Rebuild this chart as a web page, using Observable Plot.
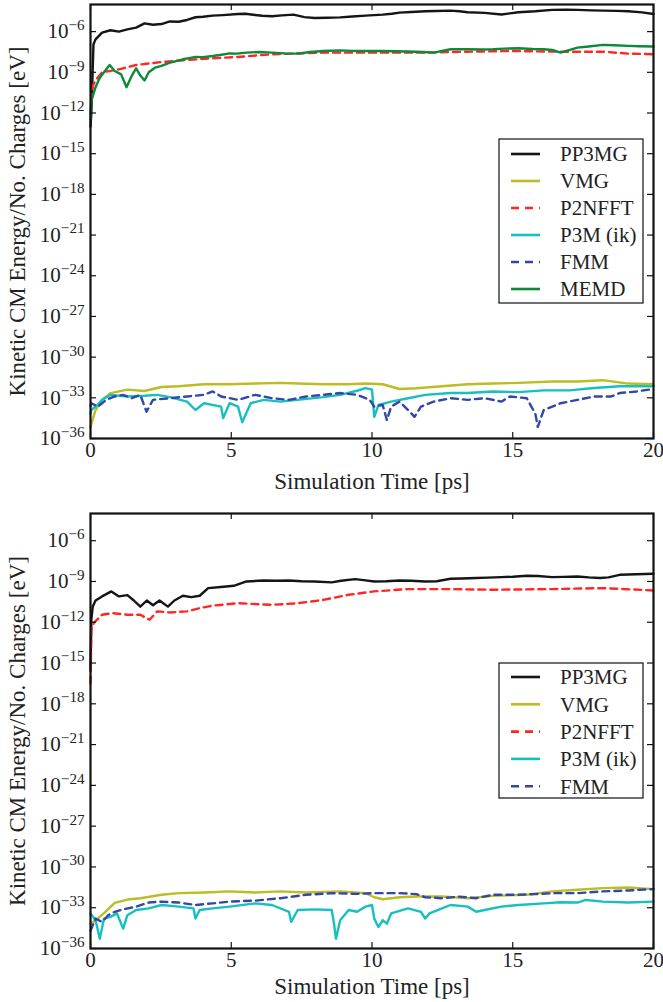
<!DOCTYPE html>
<html><head><meta charset="utf-8">
<script src="https://cdn.jsdelivr.net/npm/d3@7"></script>
<script src="https://cdn.jsdelivr.net/npm/@observablehq/plot@0.6"></script>
<style>
body{margin:0;background:#fff;}
#chart{width:663px;}
svg{display:block;}
</style></head><body><div id="chart"></div>
<script>
// ---- shared axis values ----
const xTicks = [0, 5, 10, 15, 20];
const yTickExps = [-36, -33, -30, -27, -24, -21, -18, -15, -12, -9, -6];
const xLabel = "Simulation Time [ps]";
const yLabel = "Kinetic CM Energy/No. Charges [eV]";

// ---- series ----
const seriesNames  = ["PP3MG", "VMG", "P2NFFT", "P3M (ik)", "FMM", "MEMD"];
const seriesColors = ["#151515", "#bcbd22", "#ff2626", "#17bfbf", "#3348a6", "#0b8a3a"];
const seriesDash   = [null, null, "7,5", null, "7,5", null];

// values are [time (ps), log10(energy in eV)]
// ---- top panel ----
const topPP3MG = [[0,-13],[0.03,-12],[0.106,-6.93],[0.18,-6.57],[0.41,-6.07],[0.71,-5.9],[1.01,-6.0],[1.31,-5.83],[1.62,-5.71],[1.92,-5.39],[2.22,-5.49],[2.52,-5.44],[2.82,-5.25],[3.13,-5.27],[3.43,-5.14],[3.73,-4.94],[4.0,-4.9],[4.34,-4.82],[4.7,-4.78],[5.24,-4.70],[5.5,-4.68],[5.85,-4.77],[6.1,-4.83],[6.45,-4.87],[6.8,-4.80],[7.21,-4.75],[7.6,-4.93],[7.96,-5.0],[8.4,-4.98],[8.87,-4.95],[9.3,-4.88],[9.77,-4.82],[10.38,-4.75],[10.7,-4.68],[10.98,-4.60],[11.4,-4.55],[11.89,-4.50],[12.3,-4.48],[12.79,-4.45],[13.1,-4.50],[13.4,-4.57],[14.0,-4.62],[14.6,-4.74],[15.2,-4.57],[15.8,-4.50],[16.4,-4.40],[16.9,-4.38],[17.3,-4.40],[17.8,-4.43],[18.2,-4.45],[18.7,-4.47],[19.1,-4.50],[19.6,-4.58],[20,-4.70]];
const topVMG = [[0,-35.2],[0.03,-34.9],[0.18,-33.9],[0.41,-33.15],[0.71,-32.65],[1.31,-32.4],[1.92,-32.5],[2.52,-32.2],[3.13,-32.15],[4.03,-32.0],[4.94,-32.0],[5.85,-31.95],[6.75,-31.9],[7.36,-31.95],[8.26,-32.0],[9.17,-32.0],[9.77,-31.95],[10.38,-32.0],[10.98,-32.35],[11.58,-32.3],[12.49,-32.15],[13.4,-32.0],[14.3,-31.95],[15.2,-31.9],[16.4,-31.8],[17.3,-31.8],[18.2,-31.7],[19.1,-31.95],[20,-32.0]];
const topP2NFFT = [[0,-12],[0.08,-10.0],[0.18,-9.6],[0.41,-9.0],[1.01,-8.78],[1.62,-8.46],[2.52,-8.24],[3.28,-8.11],[4.34,-7.96],[5.24,-7.87],[6.45,-7.67],[8.26,-7.55],[9.77,-7.55],[11.89,-7.55],[13.4,-7.48],[14.9,-7.43],[16.7,-7.48],[18.2,-7.48],[19.1,-7.62],[20,-7.67]];
const topP3M = [[0,-34.2],[0.03,-33.9],[0.26,-33.5],[0.41,-33.15],[0.71,-32.78],[1.31,-32.9],[1.92,-32.85],[2.37,-32.78],[2.82,-32.95],[3.43,-33.28],[3.73,-33.9],[4.03,-33.4],[4.64,-33.65],[4.71,-34.5],[4.94,-33.4],[5.24,-33.65],[5.39,-34.8],[5.69,-33.4],[6.15,-33.15],[6.75,-33.28],[7.36,-33.15],[8.26,-32.95],[8.87,-32.78],[9.47,-32.48],[9.77,-32.28],[10.0,-32.4],[10.08,-34.4],[10.23,-33.53],[10.68,-33.28],[11.28,-33.03],[11.89,-32.78],[12.79,-32.65],[13.4,-32.65],[14.3,-32.53],[15.2,-32.58],[16.1,-32.45],[17.0,-32.45],[17.9,-32.28],[18.8,-32.15],[20,-32.15]];
const topFMM = [[0,-33.6],[0.03,-33.4],[0.26,-33.65],[0.56,-33.15],[0.86,-32.9],[1.16,-32.78],[1.47,-33.03],[1.77,-32.78],[1.99,-34.03],[2.22,-33.15],[2.82,-33.03],[3.43,-32.9],[4.03,-32.78],[4.34,-32.53],[4.64,-32.9],[5.24,-33.15],[5.85,-32.78],[6.45,-33.03],[7.05,-33.15],[7.66,-32.9],[8.26,-32.78],[8.87,-32.65],[9.47,-32.78],[9.92,-33.15],[10.08,-33.65],[10.38,-33.53],[10.53,-34.65],[10.68,-33.65],[10.98,-33.28],[11.28,-33.9],[11.51,-34.4],[11.74,-33.65],[12.19,-33.28],[12.79,-33.03],[13.4,-33.15],[14.0,-33.03],[14.6,-33.28],[14.9,-32.9],[15.5,-33.03],[15.66,-33.65],[15.8,-34.15],[15.89,-35.15],[16.1,-33.9],[16.7,-33.4],[17.3,-33.15],[17.9,-32.9],[18.5,-32.9],[18.8,-32.65],[19.4,-32.53],[20,-32.35]];
const topMEMD = [[0,-12.5],[0.03,-11.1],[0.18,-10.1],[0.33,-9.4],[0.48,-9.0],[0.68,-8.46],[0.86,-8.9],[1.09,-9.15],[1.28,-10.1],[1.47,-9.24],[1.62,-8.70],[1.77,-9.24],[1.92,-9.6],[2.07,-9.0],[2.30,-8.65],[2.52,-8.53],[2.82,-8.29],[3.0,-8.2],[3.28,-8.04],[3.5,-7.95],[3.73,-7.87],[4.0,-7.88],[4.34,-7.80],[4.6,-7.72],[4.94,-7.60],[5.2,-7.62],[5.54,-7.55],[6.0,-7.5],[6.45,-7.55],[6.9,-7.6],[7.36,-7.62],[7.8,-7.5],[8.26,-7.43],[8.87,-7.38],[9.3,-7.42],[9.77,-7.43],[10.38,-7.43],[10.8,-7.45],[11.28,-7.47],[11.8,-7.5],[12.19,-7.55],[12.79,-7.30],[13.4,-7.30],[13.9,-7.32],[14.3,-7.30],[14.7,-7.25],[15.2,-7.23],[15.7,-7.28],[16.1,-7.30],[16.4,-7.35],[16.7,-7.55],[17.3,-7.18],[17.7,-7.1],[18.2,-6.98],[18.6,-7.0],[19.1,-7.05],[19.5,-7.08],[20,-7.10]];

// ---- bottom panel ----
const botPP3MG = [[0,-15.5],[0.03,-11.8],[0.08,-10.85],[0.18,-10.4],[0.41,-10.1],[0.74,-9.73],[1.01,-10.1],[1.31,-10.0],[1.54,-10.4],[1.77,-10.85],[2.0,-10.4],[2.22,-10.75],[2.45,-10.4],[2.75,-10.85],[2.98,-10.4],[3.28,-10.05],[3.58,-10.15],[3.88,-10.05],[4.18,-9.49],[4.63,-9.41],[5.09,-9.32],[5.54,-9.0],[6.15,-8.93],[6.6,-8.95],[7.05,-8.93],[7.5,-8.98],[7.96,-9.0],[8.57,-9.07],[8.9,-8.95],[9.4,-8.83],[9.7,-8.9],[10.08,-9.0],[10.5,-8.98],[10.98,-8.93],[11.4,-8.95],[11.89,-9.0],[12.3,-8.98],[12.79,-8.80],[13.2,-8.78],[13.7,-8.75],[14.1,-8.72],[14.6,-8.68],[15.0,-8.65],[15.5,-8.58],[15.9,-8.6],[16.4,-8.68],[16.8,-8.66],[17.3,-8.63],[17.7,-8.70],[18.1,-8.75],[18.4,-8.70],[18.8,-8.51],[19.4,-8.47],[20,-8.43]];
const botVMG = [[0,-34.2],[0.26,-33.8],[0.48,-33.4],[0.86,-32.65],[1.31,-32.4],[1.77,-32.3],[2.52,-32.05],[3.13,-31.93],[4.03,-31.88],[4.94,-31.8],[5.85,-31.88],[6.75,-31.8],[7.66,-31.88],[8.87,-31.8],[9.77,-31.93],[10.08,-32.23],[10.38,-32.38],[10.98,-32.23],[11.58,-32.18],[12.49,-32.18],[13.4,-32.3],[14.3,-32.13],[15.5,-32.05],[16.4,-31.8],[17.3,-31.68],[18.2,-31.56],[19.1,-31.51],[20,-31.63]];
const botP2NFFT = [[0,-16.5],[0.03,-12.56],[0.11,-12.07],[0.41,-11.45],[0.79,-11.33],[1.31,-11.45],[1.77,-11.45],[2.1,-11.82],[2.37,-11.2],[2.82,-11.28],[3.43,-11.2],[3.88,-10.96],[4.34,-10.78],[5.24,-10.6],[6.45,-10.72],[7.36,-10.6],[8.26,-10.36],[9.17,-9.98],[10.08,-9.73],[11.28,-9.56],[12.79,-9.56],[14.3,-9.61],[16.4,-9.56],[18.2,-9.49],[20,-9.66]];
const botP3M = [[0,-33.42],[0.18,-33.92],[0.33,-35.28],[0.48,-33.8],[0.71,-33.67],[0.94,-33.42],[1.16,-34.54],[1.31,-33.55],[1.62,-33.17],[2.07,-33.05],[2.52,-32.8],[3.13,-32.92],[3.66,-33.05],[3.73,-33.8],[3.88,-33.17],[4.34,-33.05],[4.94,-32.92],[5.85,-32.68],[6.45,-32.8],[7.05,-33.3],[7.13,-34.04],[7.36,-33.17],[7.96,-33.12],[8.57,-33.17],[8.65,-34.17],[8.72,-35.28],[8.87,-33.92],[9.17,-33.17],[9.47,-33.3],[9.77,-32.92],[10.0,-32.8],[10.08,-33.8],[10.23,-34.42],[10.38,-33.92],[10.53,-34.17],[10.68,-33.42],[11.28,-33.05],[11.74,-33.3],[11.89,-33.8],[12.04,-33.42],[12.49,-33.05],[12.79,-32.8],[13.4,-32.92],[13.7,-33.3],[14.0,-33.17],[14.6,-32.92],[15.2,-32.8],[16.1,-32.68],[16.7,-32.6],[17.3,-32.62],[17.6,-32.43],[18.2,-32.55],[19.1,-32.62],[20,-32.55]];
const botFMM = [[0,-34.7],[0.18,-33.8],[0.41,-34.05],[0.63,-33.55],[0.86,-33.3],[1.16,-33.12],[1.62,-32.92],[2.07,-32.62],[2.52,-32.55],[3.13,-32.62],[3.73,-32.8],[4.34,-32.68],[4.94,-32.55],[5.85,-32.48],[6.75,-32.3],[7.66,-32.05],[8.57,-31.93],[9.47,-31.98],[10.08,-31.93],[10.38,-31.93],[10.98,-31.93],[11.58,-32.0],[11.89,-32.23],[12.49,-32.3],[13.1,-32.18],[13.7,-32.3],[14.3,-32.05],[15.2,-32.05],[15.8,-32.0],[16.4,-31.93],[17.3,-31.93],[18.2,-31.8],[19.1,-31.73],[20,-31.63]];

const topSeries = [topPP3MG, topVMG, topP2NFFT, topP3M, topFMM, topMEMD];
const botSeries = [botPP3MG, botVMG, botP2NFFT, botP3M, botFMM];

const W = 663, H = 501;
const FONT = "'Liberation Serif', 'DejaVu Serif', serif";

function supLabels(svg) {
  d3.select(svg).selectAll('g[aria-label="y-axis tick label"] text').each(function () {
    const s = this.textContent;
    if (s.includes("^")) {
      const [base, exp] = s.split("^");
      const t = d3.select(this);
      t.text(null);
      t.append("tspan").text(base);
      t.append("tspan").attr("dy", "-0.55em").attr("font-size", "0.72em").text(exp);
    }
  });
}

function addLegend(svg, names, box) {
  const g = d3.select(svg).append("g").attr("font-size", 21).attr("text-anchor", "start");
  g.append("rect").attr("x", box.x).attr("y", box.y).attr("width", box.w).attr("height", box.h)
    .attr("fill", "white").attr("stroke", "#222").attr("stroke-width", 1.3);
  names.forEach((n, i) => {
    const y = box.y + box.first + i * box.step;
    g.append("line").attr("x1", box.x + 12).attr("x2", box.x + 41).attr("y1", y).attr("y2", y)
      .attr("stroke", seriesColors[i]).attr("stroke-width", 2.6)
      .attr("stroke-dasharray", seriesDash[i] ? "8,6" : null);
    g.append("text").attr("x", box.x + 61).attr("y", y).attr("dy", "0.35em")
      .attr("text-anchor", "start").attr("fill", "#222").text(n);
  });
}

function panel(seriesList, m, labelOffsetX, legendBox) {
  const pw = W - m.left - m.right, ph = H - m.top - m.bottom;
  const marks = [];
  seriesList.forEach((arr, i) => {
    marks.push(Plot.line(arr, {
      x: d => d[0], y: d => Math.pow(10, d[1]),
      stroke: seriesColors[i], strokeWidth: 2.4,
      strokeDasharray: seriesDash[i] || undefined,
      curve: "linear"
    }));
  });
  const yt = yTickExps.map(e => Math.pow(10, e));
  marks.push(
    Plot.tickY(yt, {y: d => d, insetRight: pw - 6, stroke: "#111", strokeWidth: 1.2}),
    Plot.tickY(yt, {y: d => d, insetLeft: pw - 6, stroke: "#111", strokeWidth: 1.2}),
    Plot.tickX(xTicks, {x: d => d, insetTop: ph - 6, stroke: "#111", strokeWidth: 1.2}),
    Plot.tickX(xTicks, {x: d => d, insetBottom: ph - 6, stroke: "#111", strokeWidth: 1.2}),
    Plot.axisY(yt, {anchor: "left", tickSize: 0, tickPadding: 6, fontSize: 21,
      tickFormat: d => "10^\u2212" + Math.round(-Math.log10(d)),
      label: yLabel, labelAnchor: "center", labelOffset: 82, labelArrow: "none"}),
    Plot.axisX(xTicks, {anchor: "bottom", tickSize: 0, tickPadding: 4, fontSize: 21,
      label: xLabel, labelAnchor: "center", labelOffset: labelOffsetX, labelArrow: "none"}),
    Plot.frame({stroke: "#111", strokeWidth: 2.2})
  );
  const svg = Plot.plot({
    width: W, height: H,
    marginLeft: m.left, marginRight: m.right, marginTop: m.top, marginBottom: m.bottom,
    style: {fontFamily: FONT, fontSize: "21px", color: "#222", background: "white", overflow: "visible"},
    x: {domain: [0, 20]},
    y: {type: "log", domain: [1e-36, 1e-4]},
    marks
  });
  supLabels(svg);
  d3.select(svg).selectAll('g[aria-label="x-axis label"] text, g[aria-label="y-axis label"] text')
    .attr("font-size", 23);
  addLegend(svg, seriesNames.slice(0, seriesList.length), legendBox);
  d3.select(svg).selectAll("text").style("font-family", FONT);
  return svg;
}

const chart = document.getElementById("chart");
chart.append(panel(topSeries, {top: 4, right: 10, bottom: 63, left: 90}, 50,
  {x: 499, y: 139, w: 144, h: 164, first: 15, step: 27}));
chart.append(panel(botSeries, {top: 12, right: 10, bottom: 54, left: 90}, 45,
  {x: 499, y: 162, w: 144, h: 135, first: 14, step: 27.3}));
</script>
</body></html>
